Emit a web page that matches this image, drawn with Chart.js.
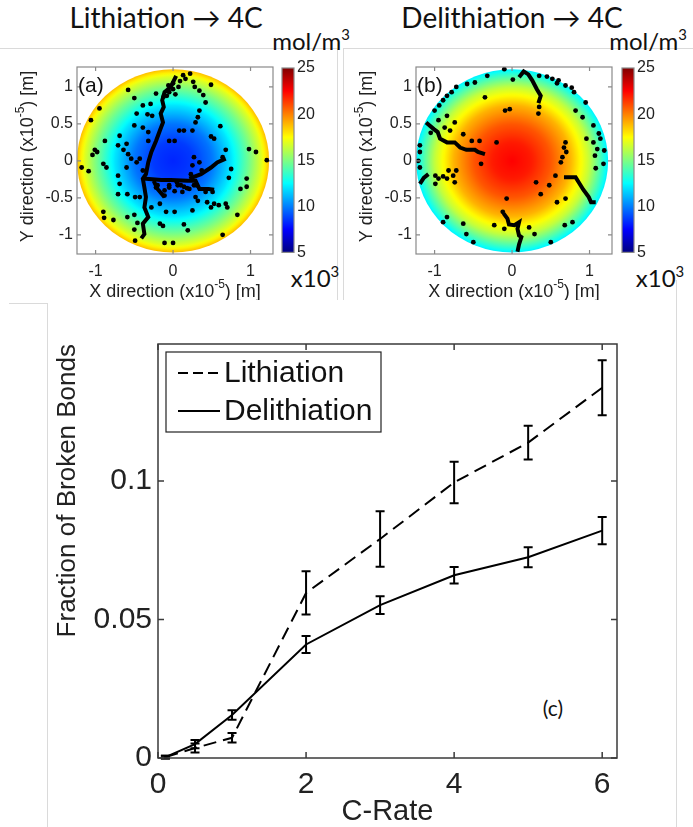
<!DOCTYPE html>
<html>
<head>
<meta charset="utf-8">
<script src="https://cdn.jsdelivr.net/npm/chart.js@4.4.1/dist/chart.umd.min.js"></script>
<style>
  body { margin: 0; width: 693px; height: 827px; background: #fff; position: relative; overflow: hidden; }
  canvas { position: absolute; }
  .lbl { position: absolute; white-space: nowrap; color: #111; font-family: Lato, "Open Sans", sans-serif; transform: translate(-50%, -50%); }
  .lbl sup { font-size: 0.62em; position: relative; top: -0.1em; }
  .rule { position: absolute; background: #dadada; }
</style>
</head>
<body>

<div class="rule" style="left:0;top:48px;width:337px;height:1px"></div>
<div class="rule" style="left:337px;top:48px;width:1px;height:252px"></div>
<div class="rule" style="left:343px;top:48px;width:350px;height:1px"></div>
<div class="rule" style="left:343px;top:48px;width:1px;height:252px"></div>
<div class="rule" style="left:9px;top:303px;width:38px;height:1px"></div>
<div class="rule" style="left:47px;top:303px;width:1px;height:524px"></div>
<div class="rule" style="left:676px;top:280px;width:1px;height:547px"></div>

<div class="lbl" style="left:166px;top:17px;font-size:28px">Lithiation → 4C</div>
<div class="lbl" style="left:512px;top:17px;font-size:28px">Delithiation → 4C</div>
<div class="lbl" style="left:311px;top:40px;font-size:24px">mol/m<sup>3</sup></div>
<div class="lbl" style="left:648px;top:40px;font-size:24px">mol/m<sup>3</sup></div>
<div class="lbl" style="left:315px;top:277px;font-size:24px">x10<sup>3</sup></div>
<div class="lbl" style="left:660px;top:277px;font-size:24px">x10<sup>3</sup></div>
<div class="lbl" style="left:553px;top:707px;font-size:21px">(c)</div>

<canvas id="mapA" width="280" height="250" style="left:0;top:50px"></canvas>
<canvas id="barA" width="60" height="215" style="left:270px;top:50px"></canvas>
<canvas id="mapB" width="280" height="250" style="left:339px;top:50px"></canvas>
<canvas id="barB" width="60" height="215" style="left:610px;top:50px"></canvas>
<canvas id="rate" width="600" height="507" style="left:40px;top:320px"></canvas>

<script>
// broken-bond fraction vs C-rate (mean and error half-width)
const cRates = [0.1, 0.5, 1, 2, 3, 4, 5, 6];
const lithMean = [0.0003, 0.0036, 0.0073, 0.0596, 0.0791, 0.0995, 0.1139, 0.1337];
const lithErr = [0.0005, 0.0016, 0.0017, 0.0078, 0.0100, 0.0075, 0.0061, 0.0099];
const delithMean = [0.0003, 0.0050, 0.0155, 0.0410, 0.0552, 0.0660, 0.0725, 0.0821];
const delithErr = [0.0005, 0.0015, 0.0017, 0.0031, 0.0032, 0.0030, 0.0036, 0.0049];
const rateTicks = [0, 2, 4, 6];
const fractionTicks = [0, 0.05, 0.1];

// radial concentration profile in the particle (x10^3 mol/m^3)
const radiusStops = [0, 0.25, 0.5, 0.75, 1.0, 1.15, 1.24];
const concLith = [8.2, 8.6, 9.8, 12.0, 15.0, 17.0, 18.8];
const concDelith = [22.5, 22.0, 20.8, 19.0, 16.3, 13.8, 12.2];
const barMin = 5, barMax = 25;
const barTicks = [5, 10, 15, 20, 25];
const mapTicksX = [-1, 0, 1];
const mapTicksY = [-1, -0.5, 0, 0.5, 1];

// broken bond sites (x10^-5 m)
const lithSites = [
  [0.13,1.16],[0.22,1.18],[0.16,1.11],[0.26,1.07],[0.09,1.08],[0.28,1.00],[0.49,1.03],[0.34,0.95],[-0.58,0.96],[0.39,0.89],
  [-0.12,0.87],[-0.50,0.85],[0.42,0.79],[-0.29,0.77],[-0.39,0.75],[-0.95,0.71],[0.34,0.68],[-0.47,0.64],[-0.33,0.63],[-0.27,0.61],
  [-1.06,0.55],[0.32,0.59],[-0.50,0.48],[-0.39,0.45],[0.29,0.52],[0.61,0.47],[-0.69,0.34],[-0.32,0.39],[0.08,0.41],[0.14,0.41],
  [0.25,0.41],[0.49,0.33],[-0.05,0.27],[0.02,0.27],[-0.88,0.27],[-0.71,0.21],[-0.60,0.23],[-0.64,0.15],[-0.32,0.27],[0.53,0.30],
  [0.98,0.16],[1.07,0.12],[0.68,0.15],[-1.01,0.15],[-1.04,0.08],[-0.98,0.12],[-0.58,0.09],[-0.54,0.03],[-0.43,0.03],[0.27,0.05],
  [0.64,0.05],[1.21,0.01],[-0.47,-0.02],[-1.18,-0.09],[-0.90,-0.04],[-0.86,-0.09],[-1.09,-0.14],[-0.60,-0.09],[-0.39,-0.13],[0.34,-0.02],
  [0.25,-0.06],[0.23,-0.18],[0.37,-0.13],[-0.71,-0.20],[0.95,-0.24],[0.72,-0.23],[-0.22,-0.36],[-0.69,-0.31],[0.51,-0.42],[0.95,-0.35],
  [0.87,-0.38],[-0.71,-0.45],[-0.59,-0.45],[-0.49,-0.49],[-0.43,-0.49],[-0.11,-0.47],[0.12,-0.42],[0.29,-0.49],[0.32,-0.54],[0.44,-0.56],
  [0.53,-0.58],[0.59,-0.60],[0.68,-0.58],[0.70,-0.63],[0.49,-0.63],[-0.90,-0.69],[-0.89,-0.77],[-0.77,-0.80],[-0.59,-0.76],[-0.50,-0.73],
  [-0.28,-0.63],[-0.17,-0.58],[-0.09,-0.69],[0.02,-0.69],[0.25,-0.67],[0.83,-0.73],[-0.46,-0.84],[-0.50,-0.93],[-0.17,-0.85],[-0.13,-0.88],
  [0.14,-0.86],[0.19,-0.94],[0.64,-1.00],[-0.49,-1.08],[-0.11,-1.11],[0.00,-1.11],[-0.22,0.91],[-0.05,0.93],[0.00,0.97],[-0.08,0.88],
  [0.03,0.90],[0.05,-0.29],[0.10,-0.33],[-0.05,-0.33],[0.30,-0.33],[0.42,-0.42],[0.18,-0.37],[0.00,1.05],[-0.06,1.02],[0.07,1.00],
  [-0.20,-0.33],[-0.05,-0.36],[0.06,-0.33],[0.14,-0.35],[0.21,-0.38],[0.27,-0.33],[-0.11,-0.40],[0.02,-0.41],[0.75,-0.11]
];
const delithSites = [
  [-0.10,1.24],[-0.32,1.15],[0.01,1.10],[0.35,1.15],[0.45,1.14],[0.52,1.11],[0.60,1.09],[0.58,1.05],[0.69,1.02],[0.77,0.99],
  [0.80,0.93],[-0.48,1.06],[-0.58,1.04],[-0.72,1.00],[-0.78,0.93],[-0.84,0.88],[-0.89,0.82],[-0.94,0.75],[-0.35,0.86],[-0.03,0.70],
  [-0.09,0.68],[0.35,0.73],[0.34,0.64],[0.95,0.79],[0.82,0.68],[0.91,0.59],[1.05,0.48],[-0.95,0.55],[-0.84,0.61],[-0.74,0.52],
  [-0.87,0.45],[-0.80,0.41],[-0.63,0.36],[-0.52,0.27],[-0.42,0.27],[-0.20,0.25],[-1.19,0.21],[-1.19,0.12],[-1.21,0.00],[-1.19,-0.09],
  [1.14,0.30],[1.05,0.25],[1.10,0.16],[1.19,0.14],[1.07,0.07],[1.18,-0.04],[0.69,0.25],[0.67,0.18],[0.70,0.12],[0.65,0.05],
  [0.63,-0.02],[0.56,-0.20],[-0.40,-0.04],[-0.99,-0.20],[-0.95,-0.24],[-0.89,-0.21],[-0.84,-0.24],[-0.99,-0.31],[-0.82,-0.13],[-0.76,-0.20],
  [-0.72,-0.13],[-0.74,-0.29],[0.31,-0.29],[0.37,-0.45],[0.48,-0.33],[0.58,-0.56],[0.69,-0.51],[-0.07,-0.51],[-0.12,-0.69],[-0.23,-0.87],
  [-0.63,-0.85],[-0.59,-0.99],[-0.84,-0.76],[-0.89,-0.83],[-0.50,-1.10],[0.22,-0.90],[0.29,-0.99],[0.68,-0.87],[0.78,-0.83],[0.50,-1.10],
  [-0.10,-0.92],[1.08,-0.10],[1.12,0.37],[0.96,0.30],[-1.00,0.68],[-1.05,0.38]
];

// crack paths (x10^-5 m)
const lithCracks = [
  [[0.04,1.15],[-0.03,1.00],[-0.11,0.93],[-0.14,0.82],[-0.12,0.73],[-0.16,0.64],[-0.13,0.52],[-0.17,0.41],[-0.22,0.27],[-0.28,0.12],
   [-0.32,-0.02],[-0.35,-0.18],[-0.39,-0.24],[-0.37,-0.36],[-0.35,-0.49],[-0.37,-0.63],[-0.32,-0.76],[-0.39,-0.85],[-0.37,-0.99],[-0.41,-1.05]],
  [[-0.39,-0.24],[-0.15,-0.26],[-0.03,-0.26],[0.19,-0.27],[0.29,-0.27],[0.34,-0.38],[0.46,-0.38],[0.53,-0.39]],
  [[0.21,-0.24],[0.36,-0.18],[0.49,-0.09],[0.57,-0.02],[0.68,0.03]],
  [[-0.25,-0.27],[-0.20,-0.38],[-0.11,-0.49]]
];
const delithCracks = [
  [[0.09,1.13],[0.15,1.21],[0.21,1.17],[0.26,1.09],[0.32,0.97],[0.37,0.88],[0.34,0.78]],
  [[-1.11,0.52],[-1.01,0.43],[-0.96,0.39],[-0.93,0.30],[-0.84,0.25],[-0.74,0.25],[-0.67,0.18],[-0.59,0.15],[-0.48,0.15],[-0.44,0.12],[-0.35,0.09]],
  [[0.67,-0.22],[0.82,-0.22],[0.86,-0.29],[0.92,-0.39],[0.99,-0.49],[1.02,-0.56],[1.08,-0.56]],
  [[-0.11,-0.71],[-0.06,-0.78],[-0.04,-0.86],[0.03,-0.87],[0.09,-0.83],[0.07,-0.92],[0.09,-1.01],[0.12,-1.03],[0.09,-1.13],[0.07,-1.23]],
  [[-1.19,-0.31],[-1.14,-0.23],[-1.08,-0.18]]
];

const SANS = '"Liberation Sans", Arial, sans-serif';
const plain = v => String(v);

function jet(v) {
  const t = (v - barMin) / (barMax - barMin);
  const c = k => Math.round(255 * Math.max(0, Math.min(1, 1.5 - Math.abs(4 * t - k))));
  return `rgb(${c(3)},${c(2)},${c(1)})`;
}

function concAt(profile, r) {
  for (let i = 1; i < radiusStops.length; i++) {
    if (r <= radiusStops[i]) {
      const f = (r - radiusStops[i - 1]) / (radiusStops[i] - radiusStops[i - 1]);
      return profile[i - 1] + f * (profile[i] - profile[i - 1]);
    }
  }
  return profile[profile.length - 1];
}

// text with one raised part, centred on (x, y)
function supText(ctx, parts, x, y, size, rot) {
  ctx.save();
  ctx.translate(x, y);
  if (rot) ctx.rotate(rot);
  const big = `${size}px ${SANS}`, small = `${Math.round(size * 0.68)}px ${SANS}`;
  let w = 0;
  parts.forEach((p, i) => { ctx.font = i % 2 ? small : big; w += ctx.measureText(p).width; });
  let px = -w / 2;
  ctx.textBaseline = 'middle';
  ctx.fillStyle = '#222';
  parts.forEach((p, i) => {
    ctx.font = i % 2 ? small : big;
    ctx.fillText(p, px, i % 2 ? -size * 0.38 : 0);
    px += ctx.measureText(p).width;
  });
  ctx.restore();
}

const particleFill = {
  id: 'particleFill',
  beforeDatasetsDraw(chart, args, opts) {
    const { ctx, scales: { x, y } } = chart;
    const cx = x.getPixelForValue(0), cy = y.getPixelForValue(0);
    const sx = x.getPixelForValue(1) - cx, sy = cy - y.getPixelForValue(1);
    const R = radiusStops[radiusStops.length - 1];
    ctx.save();
    ctx.translate(cx, cy);
    ctx.scale(sx, sy);
    const g = ctx.createRadialGradient(0, 0, 0, 0, 0, R);
    for (let i = 0; i <= 48; i++) g.addColorStop(i / 48, jet(concAt(opts.profile, R * i / 48)));
    ctx.fillStyle = g;
    ctx.beginPath();
    ctx.arc(0, 0, R, 0, Math.PI * 2);
    ctx.fill();
    ctx.restore();
  }
};

const mapFrame = {
  id: 'mapFrame',
  afterDraw(chart, args, opts) {
    const { ctx, chartArea: a, scales: { x, y } } = chart;
    ctx.save();
    ctx.strokeStyle = '#8a8a8a';
    ctx.lineWidth = 1.2;
    ctx.strokeRect(a.left, a.top, a.right - a.left, a.bottom - a.top);
    ctx.beginPath();
    mapTicksX.forEach(v => {
      const px = x.getPixelForValue(v);
      ctx.moveTo(px, a.bottom); ctx.lineTo(px, a.bottom - 4);
      ctx.moveTo(px, a.top); ctx.lineTo(px, a.top + 4);
    });
    mapTicksY.forEach(v => {
      const py = y.getPixelForValue(v);
      ctx.moveTo(a.left, py); ctx.lineTo(a.left + 4, py);
      ctx.moveTo(a.right, py); ctx.lineTo(a.right - 4, py);
    });
    ctx.stroke();
    ctx.fillStyle = '#111';
    ctx.font = `21px ${SANS}`;
    ctx.textBaseline = 'middle';
    ctx.fillText(opts.tag, a.left + 1, a.top + 19);
    ctx.restore();
    supText(ctx, ['X direction (x10', '-5', ') [m]'], (a.left + a.right) / 2, 242, 18);
    supText(ctx, ['Y direction (x10', '-5', ') [m]'], 28, (a.top + a.bottom) / 2 - 4, 18, -Math.PI / 2);
  }
};

function makeMap(id, sites, cracks, profile, tag) {
  const datasets = [{
    data: sites.map(([x, y]) => ({ x, y })),
    pointRadius: 2.4, pointBackgroundColor: '#000', pointBorderWidth: 0
  }];
  cracks.forEach(c => datasets.push({
    data: c.map(([x, y]) => ({ x, y })),
    showLine: true, borderColor: '#000', borderWidth: 4, pointRadius: 0
  }));
  const tickFont = { family: SANS, size: 16 };
  return new Chart(document.getElementById(id), {
    type: 'scatter',
    data: { datasets },
    options: {
      responsive: false, animation: false, events: [],
      layout: { padding: { top: 17, right: 7, left: 0, bottom: 0 } },
      plugins: { legend: { display: false }, tooltip: { enabled: false }, particleFill: { profile }, mapFrame: { tag } },
      scales: {
        x: {
          min: -1.24, max: 1.29,
          afterBuildTicks: s => { s.ticks = mapTicksX.map(v => ({ value: v })); },
          afterFit: s => { s.height = 46; },
          grid: { display: false, drawTicks: false }, border: { display: false },
          ticks: { padding: 8, color: '#222', font: tickFont, maxRotation: 0, callback: plain }
        },
        y: {
          min: -1.26, max: 1.27,
          afterBuildTicks: s => { s.ticks = mapTicksY.map(v => ({ value: v })); },
          afterFit: s => { s.width = 77; },
          grid: { display: false, drawTicks: false }, border: { display: false },
          ticks: { padding: 4, color: '#222', font: tickFont, callback: plain }
        }
      }
    },
    plugins: [particleFill, mapFrame]
  });
}

const colorStrip = {
  id: 'colorStrip',
  beforeDraw(chart) {
    const { ctx, chartArea: a, scales: { y } } = chart;
    const g = ctx.createLinearGradient(0, y.getPixelForValue(barMin), 0, y.getPixelForValue(barMax));
    for (let i = 0; i <= 40; i++) g.addColorStop(i / 40, jet(barMin + (barMax - barMin) * i / 40));
    ctx.save();
    ctx.fillStyle = g;
    ctx.fillRect(a.left, a.top, a.right - a.left, a.bottom - a.top);
    ctx.strokeStyle = '#8a8a8a';
    ctx.lineWidth = 1.2;
    ctx.strokeRect(a.left, a.top, a.right - a.left, a.bottom - a.top);
    ctx.restore();
  }
};

function makeBar(id) {
  return new Chart(document.getElementById(id), {
    type: 'scatter',
    data: { datasets: [] },
    options: {
      responsive: false, animation: false, events: [],
      layout: { padding: { left: 12, top: 18, bottom: 10, right: 0 } },
      plugins: { legend: { display: false }, tooltip: { enabled: false } },
      scales: {
        x: { display: false, min: 0, max: 1 },
        y: {
          position: 'right', min: barMin, max: barMax,
          afterBuildTicks: s => { s.ticks = barTicks.map(v => ({ value: v })); },
          afterFit: s => { s.width = 36; },
          grid: { display: false, drawTicks: false }, border: { display: false },
          ticks: { padding: 3, color: '#222', font: { family: SANS, size: 16 } }
        }
      }
    },
    plugins: [colorStrip]
  });
}

makeMap('mapA', lithSites, lithCracks, concLith, '(a)');
makeBar('barA');
makeMap('mapB', delithSites, delithCracks, concDelith, '(b)');
makeBar('barB');

// error bars, axes box with inward ticks, and legend for the C-rate plot
const errorBars = {
  id: 'errorBars',
  afterDatasetsDraw(chart) {
    const { ctx, scales: { x, y } } = chart;
    ctx.save();
    ctx.strokeStyle = '#000';
    ctx.lineWidth = 2;
    chart.data.datasets.forEach(ds => {
      ds.data.forEach((p, i) => {
        const e = ds.errors[i];
        const px = x.getPixelForValue(p.x);
        const top = y.getPixelForValue(p.y + e), bot = y.getPixelForValue(p.y - e);
        ctx.beginPath();
        ctx.moveTo(px, top); ctx.lineTo(px, bot);
        ctx.moveTo(px - 4.5, top); ctx.lineTo(px + 4.5, top);
        ctx.moveTo(px - 4.5, bot); ctx.lineTo(px + 4.5, bot);
        ctx.stroke();
      });
    });
    ctx.restore();
  }
};

const rateFrame = {
  id: 'rateFrame',
  afterDraw(chart) {
    const { ctx, chartArea: a, scales: { x, y } } = chart;
    ctx.save();
    ctx.strokeStyle = '#3a3a3a';
    ctx.lineWidth = 1.5;
    ctx.strokeRect(a.left, a.top, a.right - a.left, a.bottom - a.top);
    ctx.beginPath();
    rateTicks.forEach(v => {
      const px = x.getPixelForValue(v);
      ctx.moveTo(px, a.bottom); ctx.lineTo(px, a.bottom - 6);
      ctx.moveTo(px, a.top); ctx.lineTo(px, a.top + 6);
    });
    fractionTicks.forEach(v => {
      const py = y.getPixelForValue(v);
      ctx.moveTo(a.left, py); ctx.lineTo(a.left + 6, py);
      ctx.moveTo(a.right, py); ctx.lineTo(a.right - 6, py);
    });
    ctx.stroke();

    // legend
    const bx = a.left + 8, by = a.top + 8, bw = 215, bh = 80;
    ctx.fillStyle = '#fff';
    ctx.fillRect(bx, by, bw, bh);
    ctx.strokeStyle = '#222';
    ctx.lineWidth = 1.2;
    ctx.strokeRect(bx, by, bw, bh);
    ctx.font = `30px ${SANS}`;
    ctx.textBaseline = 'middle';
    chart.data.datasets.forEach((ds, i) => {
      const ly = by + 21 + i * 38;
      ctx.strokeStyle = '#000';
      ctx.lineWidth = 2;
      ctx.setLineDash(ds.borderDash ? [10, 5] : []);
      ctx.beginPath();
      ctx.moveTo(bx + 12, ly); ctx.lineTo(bx + 54, ly);
      ctx.stroke();
      ctx.setLineDash([]);
      ctx.fillStyle = '#111';
      ctx.fillText(ds.label, bx + 58, ly + 1);
    });
    ctx.restore();
  }
};

const axisFont = size => ({ family: SANS, size });

new Chart(document.getElementById('rate'), {
  type: 'scatter',
  data: {
    datasets: [
      {
        label: 'Lithiation',
        data: cRates.map((c, i) => ({ x: c, y: lithMean[i] })),
        errors: lithErr,
        showLine: true, borderColor: '#000', borderWidth: 2, borderDash: [13, 7], pointRadius: 0
      },
      {
        label: 'Delithiation',
        data: cRates.map((c, i) => ({ x: c, y: delithMean[i] })),
        errors: delithErr,
        showLine: true, borderColor: '#000', borderWidth: 2, pointRadius: 0
      }
    ]
  },
  options: {
    responsive: false, animation: false, events: [],
    layout: { padding: { top: 23, right: 23, left: 0, bottom: 0 } },
    plugins: { legend: { display: false }, tooltip: { enabled: false } },
    scales: {
      x: {
        min: 0, max: 6.2,
        afterBuildTicks: s => { s.ticks = rateTicks.map(v => ({ value: v })); },
        afterFit: s => { s.height = 69; },
        grid: { display: false, drawTicks: false }, border: { display: false },
        ticks: { padding: 9, color: '#222', font: axisFont(30), maxRotation: 0, callback: plain },
        title: { display: true, text: 'C-Rate', color: '#222', font: { ...axisFont(29), lineHeight: 1 }, padding: { top: 0, bottom: 1 } }
      },
      y: {
        min: 0, max: 0.1495,
        afterBuildTicks: s => { s.ticks = fractionTicks.map(v => ({ value: v })); },
        afterFit: s => { s.width = 118; },
        grid: { display: false, drawTicks: false }, border: { display: false },
        ticks: { padding: 6, color: '#222', font: axisFont(30), callback: plain },
        title: { display: true, text: 'Fraction of Broken Bonds', align: 'end', color: '#222', font: axisFont(26), padding: { top: 12, bottom: 0 } }
      }
    }
  },
  plugins: [errorBars, rateFrame]
});
</script>
</body>
</html>
